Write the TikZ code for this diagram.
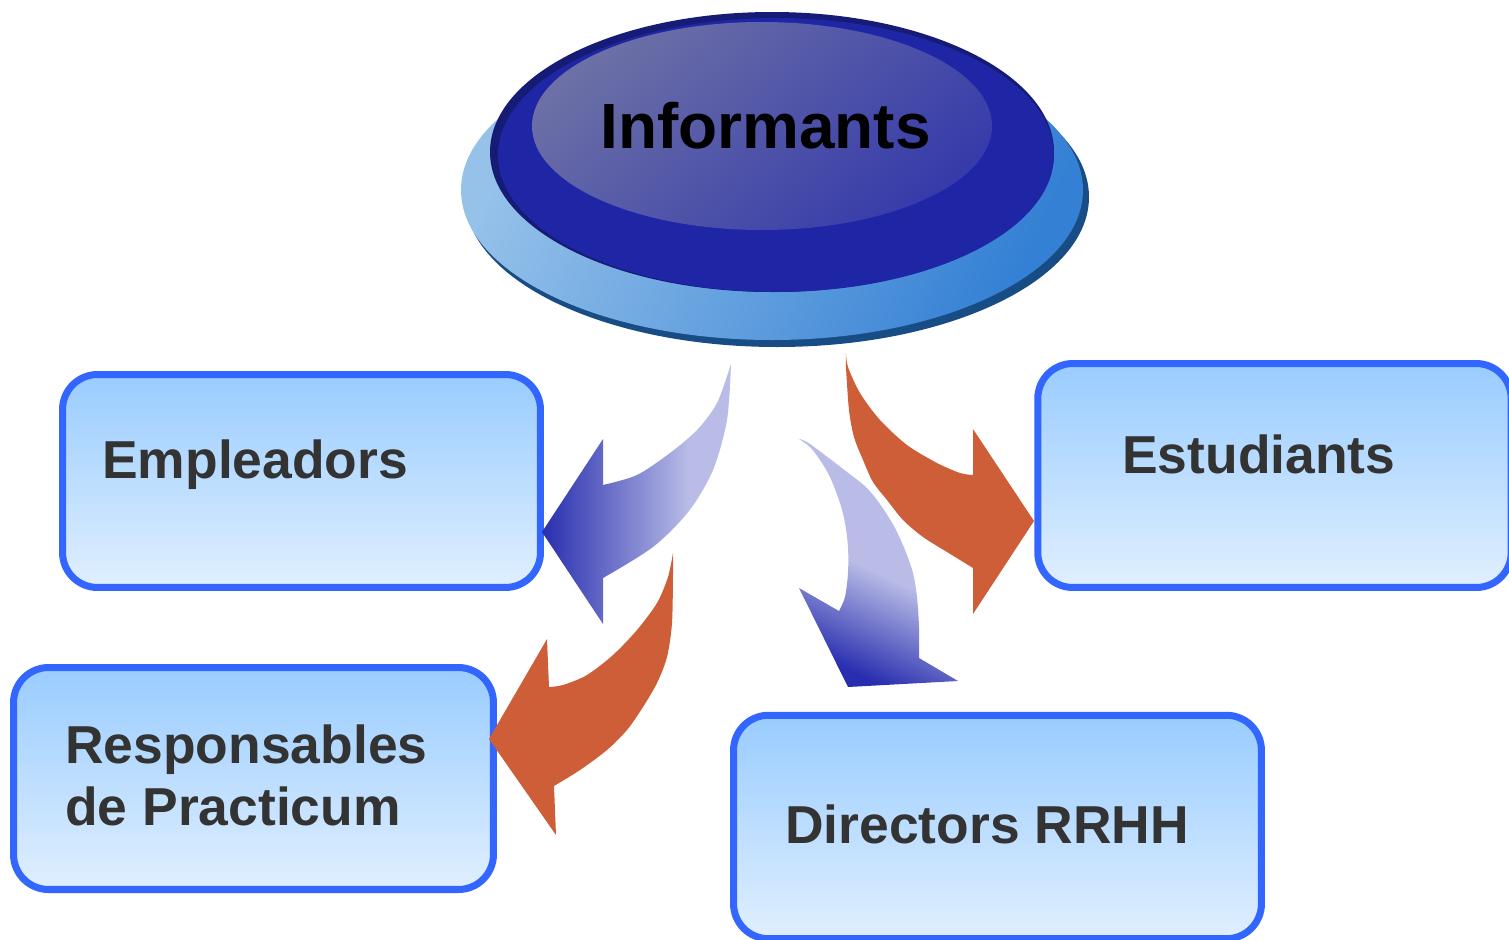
\documentclass[tikz,border=0pt]{standalone}
\usepackage{fontspec}
\setmainfont{Liberation Sans}
\usepackage{tikz}

\definecolor{boxline}{RGB}{51,102,255}
\definecolor{boxtop}{RGB}{153,204,255}
\definecolor{boxbot}{RGB}{224,239,255}
\definecolor{boxtext}{RGB}{51,51,51}
\definecolor{rust}{RGB}{205,94,56}
\definecolor{arrdark}{RGB}{40,46,175}
\definecolor{arrlight}{RGB}{185,188,230}
\definecolor{baserim}{RGB}{24,76,133}
\definecolor{baselight}{RGB}{150,194,234}
\definecolor{basedeep}{RGB}{52,128,212}
\definecolor{capdark}{RGB}{22,28,118}
\definecolor{capblue}{RGB}{31,38,165}
\definecolor{topgray}{RGB}{108,112,166}
\definecolor{topblue}{RGB}{54,59,170}

\pgfdeclarehorizontalshading{fadeleft}{100bp}{color(0bp)=(arrdark); color(25bp)=(arrdark); color(64bp)=(arrlight); color(100bp)=(arrlight)}
\pgfdeclareverticalshading{fadedown}{100bp}{color(0bp)=(arrdark); color(25bp)=(arrdark); color(48bp)=(arrlight); color(100bp)=(arrlight)}

\tikzset{
    box/.style={draw=boxline, line width=4pt, rounded corners=0.7cm,
        top color=boxtop, bottom color=boxbot},
    lbl/.style={text=boxtext, font=\fontsize{30.4}{35.2}\selectfont\bfseries,
        inner sep=0pt, anchor=base west, align=left},
}

\begin{document}
\begin{tikzpicture}[x=0.02cm,y=-0.02cm]
        \useasboundingbox (0,0) rectangle (1509,940);
        % Informants button
        \fill[baserim] (777,197) ellipse [x radius=312, y radius=150];
        \shade[top color=baselight, bottom color=basedeep, shading angle=65]
            (772,190) ellipse [x radius=311, y radius=150];
        \fill[capdark] (772,152) ellipse [x radius=282, y radius=140];
        \fill[capblue] (776,155) ellipse [x radius=278, y radius=137];
        \shade[top color=topgray, bottom color=topblue, shading angle=40]
            (762,126) ellipse [x radius=230, y radius=104];
        \node[font=\fontsize{36.4}{40}\selectfont\bfseries, inner sep=0pt, anchor=base west]
            (inf) at (600,148) {Informants};

        % boxes
        \node[box, minimum width=9.56cm, minimum height=4.26cm] (emp) at (301.5,481) {};
        \node[box, minimum width=9.6cm, minimum height=4.44cm] (resp) at (253.5,778.5) {};
        \node[box, minimum width=9.47cm, minimum height=4.48cm] (est) at (1274.5,475.5) {};
        \node[box, minimum width=10.56cm, minimum height=4.47cm] (dir) at (997.5,827) {};
        \node[lbl] (emptxt) at (102,478) {Empleadors};
        \node[lbl] (resptxt) at (65,825) {Responsables\\de Practicum};
        \node[lbl] (esttxt) at (1122,473) {Estudiants};
        \node[lbl] (dirtxt) at (785,843) {Directors RRHH};

        % arrows
        \shade[shading=fadeleft] (731,364)
            -- plot[smooth] coordinates {(731,364) (727,420) (713,470) (689,511) (653,547) (603,578)}
            -- (603,624) -- (542,532) -- (603,439) -- (603,485)
            -- plot[smooth] coordinates {(603,485) (637,475) (670,453) (697,430) (717,403) (731,364)}
            -- cycle;
        \fill[rust] (673,553)
            -- plot[smooth] coordinates {(673,553) (673,573) (672,623) (667,657) (657,683) (643,707) (627,730) (607,750) (580,770) (554,786)}
            -- (556,835) -- (489,739) -- (547,639) -- (549,687)
            -- plot[smooth] coordinates {(549,687) (563,685) (587,675) (613,655) (637,630) (657,603) (668,577) (673,553)}
            -- cycle;
        \shade[shading=fadedown, shading angle=-25] (799,439)
            -- plot[smooth] coordinates {(799,439) (810,444) (847,472) (867,488) (882,507) (895,528) (905,550) (913,573) (917,597) (919,627) (919,658)}
            -- (958,681) -- (848,687) -- (799,588) -- (839,611)
            -- plot[smooth] coordinates {(839,611) (845,597) (848,573) (848,547) (845,523) (840,503) (830,477) (820,460) (810,447) (799,439)}
            -- cycle;
        \fill[rust] (846,353)
            -- plot[smooth] coordinates {(846,353) (848,367) (860,393) (880,420) (907,445) (937,463) (960,473) (973,475)}
            -- (973,429) -- (1034,521) -- (973,614) -- (973,568)
            -- plot[smooth] coordinates {(973,568) (947,552) (923,537) (903,520) (887,500) (873,482) (863,460) (854,437) (849,410) (846,367) (846,353)}
            -- cycle;
\end{tikzpicture}
\end{document}
